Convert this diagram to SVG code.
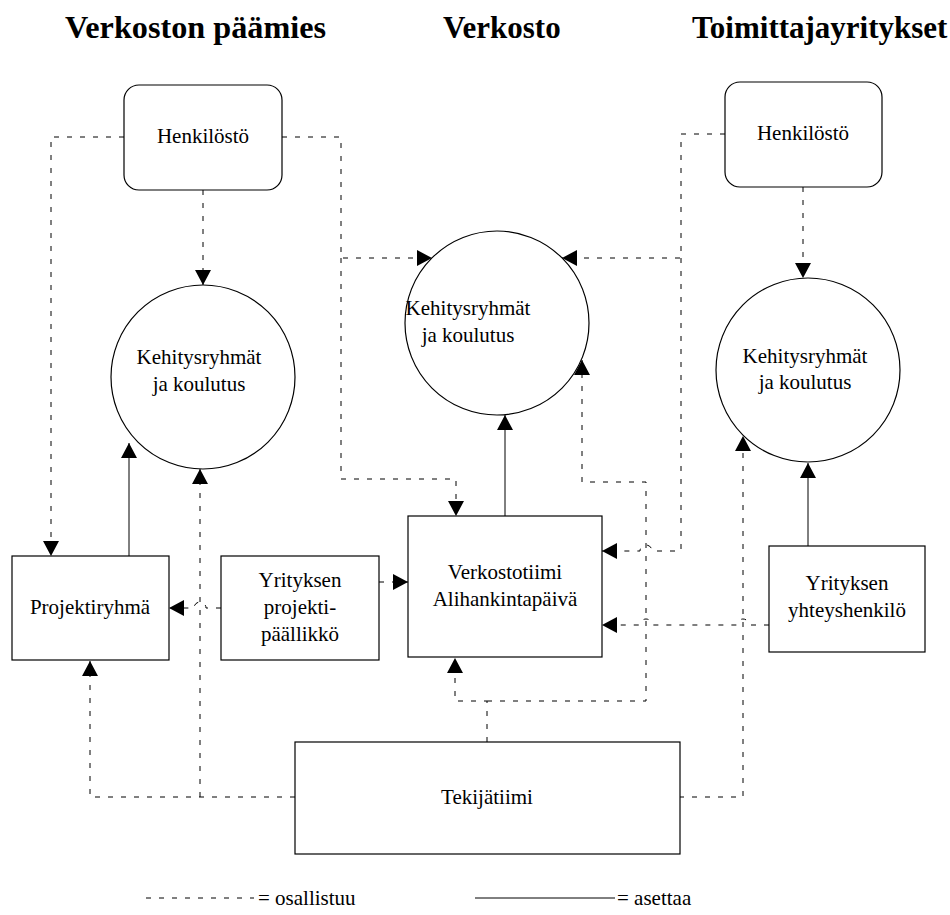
<svg xmlns="http://www.w3.org/2000/svg" width="950" height="915" viewBox="0 0 950 915">
  <style>
    text { font-family: "Liberation Serif", "Times New Roman", serif; fill: #000; }
    .title { font-size: 31px; font-weight: bold; }
    .lbl { font-size: 21px; text-anchor: middle; }
    .box { fill: #fff; stroke: #000; stroke-width: 1.2; }
    .conn { fill: none; stroke: #000; stroke-width: 1; }
    .dash { stroke-dasharray: 5 8; }
  </style>
  <defs>
    <marker id="arrow" viewBox="0 0 15 16" markerWidth="15" markerHeight="16" refX="15" refY="8" orient="auto" markerUnits="userSpaceOnUse">
      <path d="M0,0 L15,8 L0,16 z" fill="#000"/>
    </marker>
  </defs>

  <rect width="950" height="915" fill="#fff"/>

  <!-- column headings -->
  <text class="title" x="65" y="38" textLength="261" lengthAdjust="spacingAndGlyphs">Verkoston päämies</text>
  <text class="title" x="443" y="38">Verkosto</text>
  <text class="title" x="692" y="38">Toimittajayritykset</text>

  <!-- connectors -->
  <g id="connectors">
    <!-- dashed: participates -->
    <path class="conn dash" d="M124,137 H51 V556" marker-end="url(#arrow)"/>
    <path class="conn dash" d="M203,190 V285" marker-end="url(#arrow)"/>
    <path class="conn dash" d="M282,137 H341 V258 H432" marker-end="url(#arrow)"/>
    <path class="conn dash" d="M341,258 V479 H456 V516" marker-end="url(#arrow)"/>
    <path class="conn dash" d="M725,134 H681 V258 H562" marker-end="url(#arrow)"/>
    <path class="conn dash" d="M681,258 V551 H652 a6,6 0 0 0 -12,0 H602" marker-end="url(#arrow)"/>
    <path class="conn dash" d="M221,608 H206 a6,6 0 0 0 -12,0 H169" marker-end="url(#arrow)"/>
    <path class="conn dash" d="M379,582 H408" marker-end="url(#arrow)"/>
    <path class="conn dash" d="M487,742 V701 H455 V658" marker-end="url(#arrow)"/>
    <path class="conn dash" d="M487,701 H646 V482 H582 V360" marker-end="url(#arrow)"/>
    <path class="conn dash" d="M679,797 H743 V436" marker-end="url(#arrow)"/>
    <path class="conn dash" d="M295,797 H90 V661" marker-end="url(#arrow)"/>
    <path class="conn dash" d="M200,797 V469" marker-end="url(#arrow)"/>
    <path class="conn dash" d="M769,625 H749 a6,6 0 0 0 -12,0 H652 a6,6 0 0 0 -12,0 H602" marker-end="url(#arrow)"/>
    <path class="conn dash" d="M803,187 V278" marker-end="url(#arrow)"/>
    <!-- solid: sets up -->
    <path class="conn" d="M129,556 V443" marker-end="url(#arrow)"/>
    <path class="conn" d="M505,516 V415" marker-end="url(#arrow)"/>
    <path class="conn" d="M808,546 V463" marker-end="url(#arrow)"/>
  </g>

  <!-- nodes -->
  <g id="henkilosto-paamies">
    <rect class="box" x="124" y="85" width="158" height="105" rx="15"/>
    <text class="lbl" x="203" y="143">Henkilöstö</text>
  </g>
  <g id="henkilosto-toimittajat">
    <rect class="box" x="725" y="82" width="157" height="105" rx="15"/>
    <text class="lbl" x="803" y="140">Henkilöstö</text>
  </g>
  <g id="kehitys-paamies">
    <circle class="box" cx="203" cy="377" r="92"/>
    <text class="lbl" x="199" y="364">Kehitysryhmät</text>
    <text class="lbl" x="199" y="391">ja koulutus</text>
  </g>
  <g id="kehitys-verkosto">
    <circle class="box" cx="497" cy="323" r="92"/>
    <text class="lbl" x="468" y="315">Kehitysryhmät</text>
    <text class="lbl" x="468" y="342">ja koulutus</text>
  </g>
  <g id="kehitys-toimittajat">
    <circle class="box" cx="808" cy="370" r="92"/>
    <text class="lbl" x="805" y="363">Kehitysryhmät</text>
    <text class="lbl" x="805" y="389">ja koulutus</text>
  </g>
  <g id="projektiryhma">
    <rect class="box" x="12" y="556" width="157" height="104"/>
    <text class="lbl" x="90" y="614">Projektiryhmä</text>
  </g>
  <g id="projektipaallikko">
    <rect class="box" x="221" y="556" width="158" height="104"/>
    <text class="lbl" x="300" y="587">Yrityksen</text>
    <text class="lbl" x="300" y="614">projekti-</text>
    <text class="lbl" x="300" y="641">päällikkö</text>
  </g>
  <g id="verkostotiimi">
    <rect class="box" x="408" y="516" width="194" height="141"/>
    <text class="lbl" x="505" y="579">Verkostotiimi</text>
    <text class="lbl" x="505" y="606">Alihankintapäivä</text>
  </g>
  <g id="yhteyshenkilo">
    <rect class="box" x="769" y="546" width="156" height="106"/>
    <text class="lbl" x="847" y="590">Yrityksen</text>
    <text class="lbl" x="847" y="617">yhteyshenkilö</text>
  </g>
  <g id="tekijatiimi">
    <rect class="box" x="295" y="742" width="385" height="112"/>
    <text class="lbl" x="487" y="804">Tekijätiimi</text>
  </g>

  <!-- legend -->
  <g id="legend">
    <path class="conn dash" d="M146,898 H254"/>
    <text x="258" y="905" style="font-size:21px">= osallistuu</text>
    <path class="conn" d="M475,898 H615"/>
    <text x="617" y="905" style="font-size:21px">= asettaa</text>
  </g>
</svg>
